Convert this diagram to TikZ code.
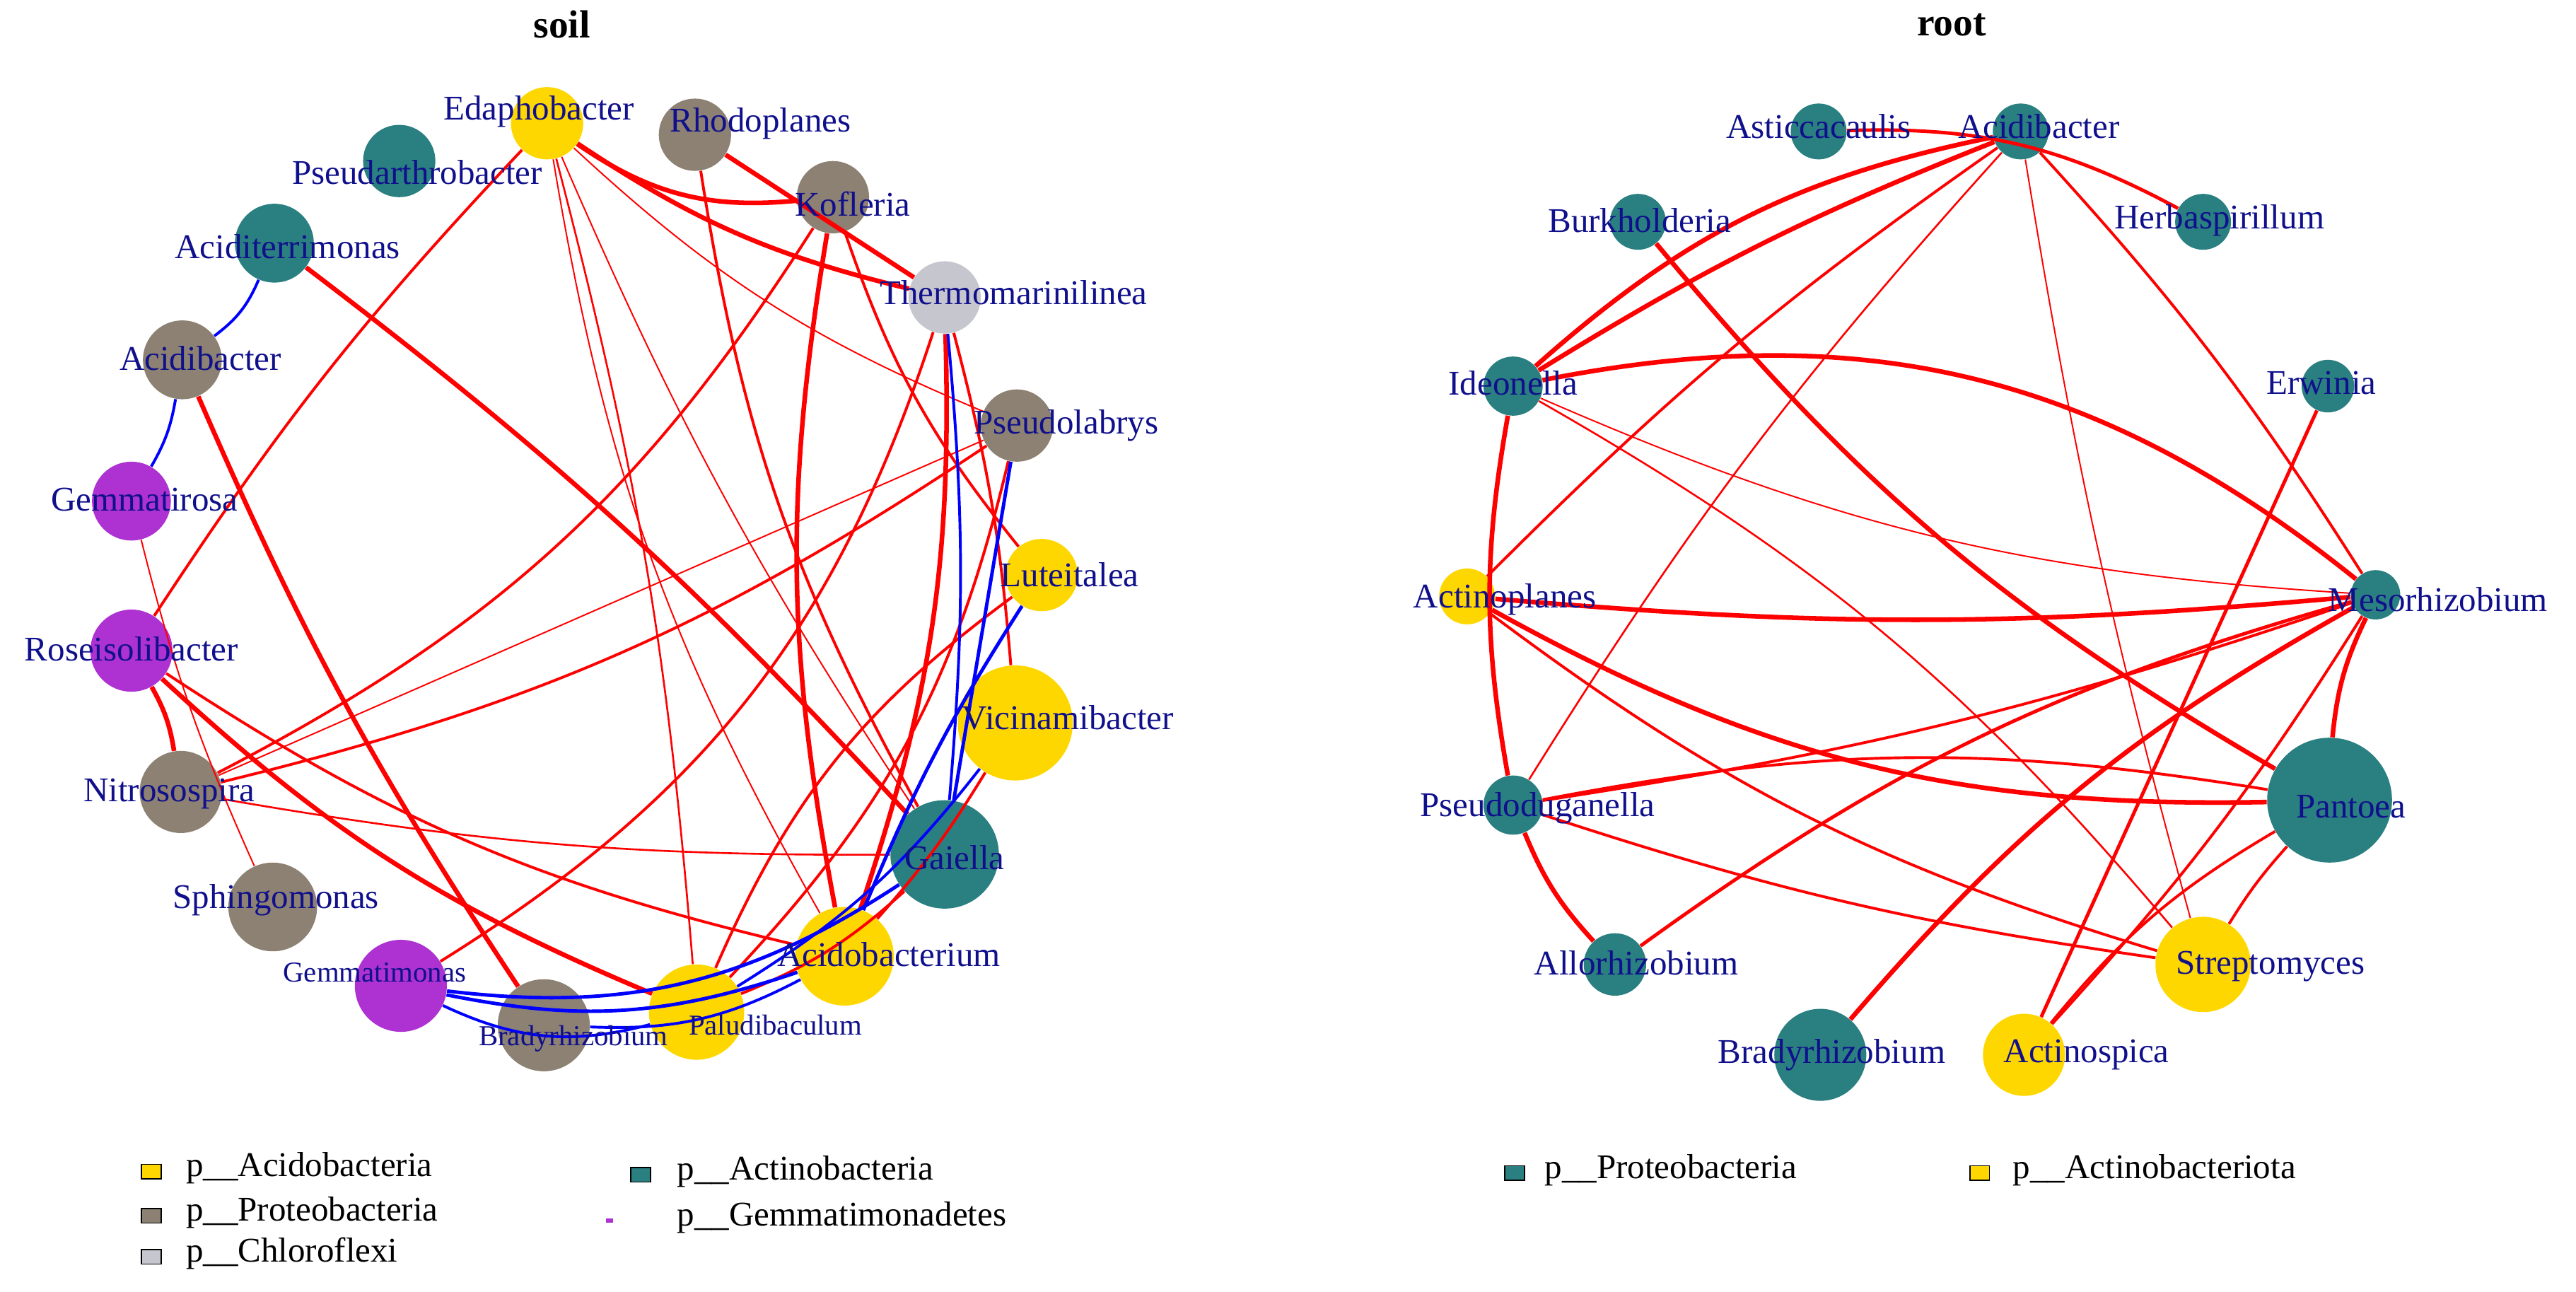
\documentclass[tikz,border=0pt]{standalone}
\usepackage{fontspec}
\setmainfont{Liberation Serif}
\usepackage{xcolor}
\definecolor{acido}{HTML}{FFD700}
\definecolor{proteo}{HTML}{8C8172}
\definecolor{actino}{HTML}{2A7F80}
\definecolor{gemma}{HTML}{AE32D2}
\definecolor{chloro}{HTML}{C6C6CE}
\definecolor{labtext}{HTML}{10108C}

\tikzset{
  bug/.style={circle,draw=none,inner sep=0pt},
  taxon/.style={text=labtext,font=\fontsize{15}{18}\selectfont,inner sep=0pt},
  staxon/.style={text=labtext,font=\fontsize{12.5}{15}\selectfont,inner sep=0pt},
  posedge/.style={red,line width=#1},
  negedge/.style={blue,line width=#1},
  key/.style={draw=black,line width=0.5pt,minimum width=3mm,minimum height=2.2mm,inner sep=0pt},
  keytext/.style={anchor=west,font=\fontsize{15}{18}\selectfont,inner sep=0pt}
}

\begin{document}
\begin{tikzpicture}[x=0.25mm,y=-0.25mm]
\useasboundingbox (0,0) rectangle (1568,786);

\node[font=\bfseries\fontsize{17}{20}\selectfont] (tsoil) at (342,15) {soil};
\node[font=\bfseries\fontsize{17}{20}\selectfont] (troot) at (1188,15) {root};

% soil nodes
\foreach \n/\x/\y/\r/\c in
{Eda/333/75/22/acido, Rho/423/82/22/proteo, Kof/507/120/22/proteo,
 Psa/243/98/22/actino, Act/167/148/24/actino, The/575/181/22/chloro,
 Acb/111/219/24/proteo, Psl/619/259/22/proteo, Gmr/80/305/24/gemma,
 Lut/634/350/22/acido, Ros/80/396/25/gemma, Vic/618/440/35/acido,
 Nit/110/482/25/proteo, Gai/575/520/33/actino, Sph/166/552/27/proteo,
 Acm/514/582/30/acido, Gmn/244/600/28/gemma, Bra/331/624/28/proteo,
 Pal/424/616/29/acido}{
  \node[bug,fill=\c,minimum size=\r*0.5mm] (\n) at (\x,\y) {};
}

% root nodes
\foreach \n/\x/\y/\r/\c in
{rAst/1107/80/17/actino, rAcb/1230/80/17/actino, rBur/997/135/17/actino,
 rHer/1341/135/17/actino, rIde/921/235/18/actino, rErw/1417/235/16/actino,
 rAcp/893/363/17/acido, rMes/1446/362/15/actino, rPsd/921/490/18/actino,
 rPan/1418/487/38/actino, rAll/983/587/19/actino, rStr/1341/587/29/acido,
 rBra/1108/642/28/actino, rAcs/1232/642/25/acido}{
  \node[bug,fill=\c,minimum size=\r*0.5mm] (\n) at (\x,\y) {};
}

% soil edges
\foreach \a/\b/\w/\s/\bd in
{Eda/Kof/2pt/posedge/-20, Eda/The/2pt/posedge/-10, Eda/Ros/1.2pt/posedge/-5, Eda/Pal/0.8pt/posedge/5,
 Eda/Acm/0.6pt/posedge/-10, Eda/Gai/0.6pt/posedge/-5, Rho/The/2pt/posedge/0, Rho/Gai/1.2pt/posedge/-10,
 Kof/Acm/2pt/posedge/-10, Kof/Nit/1.2pt/posedge/15, Kof/Lut/1.2pt/posedge/-10, Act/Gai/2pt/posedge/5,
 Acb/Bra/2pt/posedge/-5, The/Gmn/1.2pt/posedge/20, The/Acm/2pt/posedge/10, The/Vic/1.2pt/posedge/5,
 Psl/Nit/1.2pt/posedge/10, Psl/Pal/1.2pt/posedge/15, Psl/Eda/0.6pt/posedge/10, Ros/Nit/2pt/posedge/10,
 Ros/Pal/2pt/posedge/-10, Ros/Acm/1.2pt/posedge/-10, Nit/Gai/0.8pt/posedge/-5, Nit/Psl/0.6pt/posedge/0,
 Gmr/Sph/0.6pt/posedge/-5, Pal/Lut/1.2pt/posedge/15, Acm/Vic/1.2pt/posedge/-5, Pal/Gai/1.2pt/posedge/-10,
 Acb/Act/1.2pt/negedge/-15, Acb/Gmr/1.2pt/negedge/10, Gmn/Gai/1.5pt/negedge/-20, Gmn/Acm/1.5pt/negedge/-15,
 Gmn/Pal/1.2pt/negedge/-20, Bra/Acm/1.2pt/negedge/-15, The/Gai/1.2pt/negedge/5, Psl/Gai/1.5pt/negedge/0,
 Lut/Acm/1.5pt/negedge/-5, Pal/Vic/1.2pt/negedge/-10}{
  \draw[\s=\w] (\a) to[bend left=\bd] (\b);
}

% root edges
\foreach \a/\b/\w/\bd in
{rAst/rHer/1.5pt/15, rAcb/rIde/2pt/-15, rAcb/rIde/2pt/-5, rAcb/rAcp/1.2pt/-5,
 rAcb/rPsd/0.8pt/-5, rAcb/rMes/1.2pt/5, rAcb/rStr/0.6pt/-3, rBur/rPan/2pt/-10,
 rIde/rMes/0.6pt/-10, rIde/rPsd/2pt/-10, rIde/rStr/0.8pt/10, rIde/rMes/2pt/25,
 rErw/rAcs/1.5pt/0, rAcp/rMes/2pt/-5, rAcp/rPan/2pt/-15, rAcp/rStr/1.2pt/-10,
 rMes/rPsd/1.2pt/5, rMes/rAll/1.5pt/-10, rMes/rBra/2pt/-10, rMes/rPan/2pt/-10,
 rMes/rAcs/1.2pt/5, rPsd/rAll/2pt/-10, rPsd/rStr/1.2pt/-5, rPsd/rPan/1.2pt/10,
 rPan/rStr/1.2pt/-5, rPan/rAcs/1.2pt/-10}{
  \draw[posedge=\w] (\a) to[bend left=\bd] (\b);
}

% labels
\foreach \n/\x/\y/\t in
{Eda/328/68/Edaphobacter, Rho/463/75/Rhodoplanes, Kof/519/124/Kofleria,
 Psa/254/105/Pseudarthrobacter, Act/175/150/Aciditerrimonas, The/617/178/Thermomarinilinea,
 Acb/122/218/Acidibacter, Psl/649/259/Pseudolabrys, Gmr/88/304/Gemmatirosa,
 Lut/651/350/Luteitalea, Ros/80/395/Roseisolibacter, Vic/650/437/Vicinamibacter,
 Nit/103/483/Nitrosospira, Gai/581/522/Gaiella, Sph/168/548/Sphingomonas,
 Acm/541/581/Acidobacterium,
 rAst/1107/77/Asticcacaulis, rAcb/1241/77/Acidibacter, rBur/998/134/Burkholderia,
 rHer/1351/134/Herbaspirillum, rIde/921/233/Ideonella, rErw/1413/233/Erwinia,
 rAcp/916/365/Actinoplanes, rMes/1484/365/Mesorhizobium, rPsd/936/492/Pseudoduganella,
 rPan/1431/491/Pantoea, rAll/996/586/Allorhizobium, rStr/1382/588/Streptomyces,
 rBra/1115/642/Bradyrhizobium, rAcs/1270/642/Actinospica}{
  \node[taxon] (l\n) at (\x,\y) {\t};
}
\foreach \n/\x/\y/\t in
{Gmn/228/592/Gemmatimonas, Bra/349/632/Bradyrhizobium, Pal/472/624/Paludibaculum}{
  \node[staxon] (l\n) at (\x,\y) {\t};
}

% legends
\node[key,fill=acido] (k1) at (92,713) {};
\node[keytext] at (113,711) {p\_\_Acidobacteria};
\node[key,fill=proteo] (k2) at (92,740) {};
\node[keytext] at (113,738) {p\_\_Proteobacteria};
\node[key,fill=chloro] (k3) at (92,765) {};
\node[keytext] at (113,763) {p\_\_Chloroflexi};
\node[key,fill=actino] (k4) at (390,715) {};
\node[keytext] at (412,713) {p\_\_Actinobacteria};
\node[key,fill=gemma,minimum width=1mm,minimum height=0.6mm,draw=none] (k5) at (371,743) {};
\node[keytext] at (412,741) {p\_\_Gemmatimonadetes};
\node[key,fill=actino] (k6) at (922,714) {};
\node[keytext] at (940,712) {p\_\_Proteobacteria};
\node[key,fill=acido] (k7) at (1205,714) {};
\node[keytext] at (1225,712) {p\_\_Actinobacteriota};
\end{tikzpicture}
\end{document}
